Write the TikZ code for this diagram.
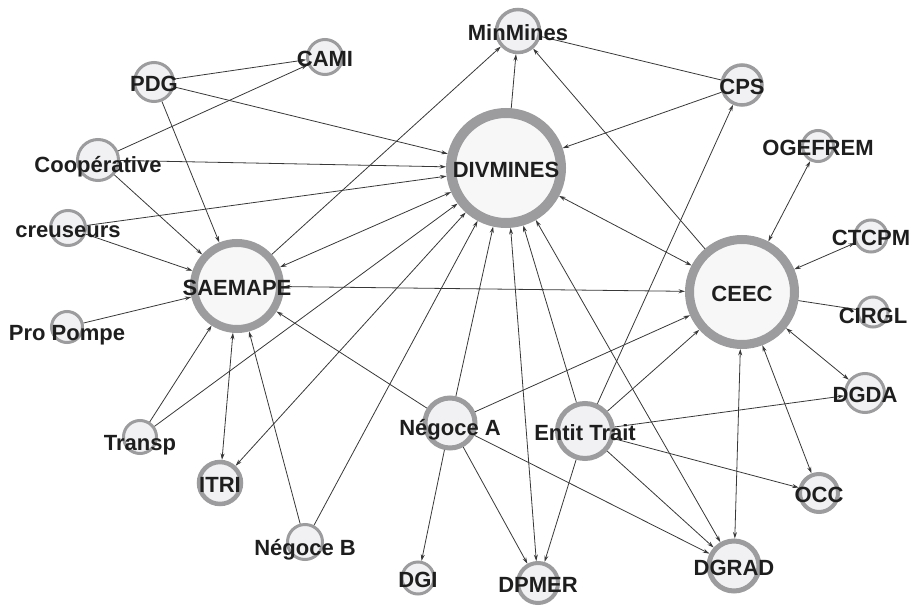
\documentclass[tikz,border=0pt]{standalone}
\usepackage{fontspec}
\setmainfont{Liberation Sans}
\usetikzlibrary{arrows.meta}
\definecolor{ringgray}{HTML}{9C9C9E}
\definecolor{nodefill}{HTML}{F1F1F3}
\definecolor{bigfill}{HTML}{F7F7F8}
\definecolor{edgegray}{HTML}{383838}
\definecolor{labeltext}{HTML}{1E1E1E}
\begin{document}
\begin{tikzpicture}[x=1pt,y=-1pt,
	vertex/.style 2 args={circle,draw=ringgray,fill=nodefill,inner sep=0pt,minimum size=#1,line width=#2},
	hub/.style={fill=bigfill},
	lbl/.style={font=\fontsize{22}{22}\selectfont\bfseries,text=labeltext,inner sep=0pt,text height=15.7pt,text depth=0pt,yshift=-2pt},
	link/.style={draw=edgegray,line width=0.8pt},
	>={Stealth[length=6.5pt,width=4pt]}]
	\useasboundingbox (0,0) rectangle (915,607);
	\node[vertex={39}{3}] (pdg) at (154,82) {};
	\node[vertex={35}{3}] (cami) at (325,57) {};
	\node[vertex={41}{3}] (coop) at (98,160) {};
	\node[vertex={35}{3}] (creu) at (68,228) {};
	\node[vertex={86}{8},hub] (saemape) at (237,286) {};
	\node[vertex={31}{3}] (propompe) at (67,327) {};
	\node[vertex={33}{3}] (transp) at (140,437) {};
	\node[vertex={42}{4.5}] (itri) at (220,483) {};
	\node[vertex={35}{3}] (negb) at (305,542) {};
	\node[vertex={32}{3}] (dgi) at (418,578) {};
	\node[vertex={43}{3.5}] (minmines) at (518,31) {};
	\node[vertex={40}{3.5}] (cps) at (742,85) {};
	\node[vertex={110}{10},hub] (divmines) at (506,168) {};
	\node[vertex={31}{3}] (ogefrem) at (818,146) {};
	\node[vertex={32}{3}] (ctcpm) at (871,236) {};
	\node[vertex={105}{9},hub] (ceec) at (742,292) {};
	\node[vertex={30}{3}] (cirgl) at (873,312) {};
	\node[vertex={39}{3}] (dgda) at (865,393) {};
	\node[vertex={55}{5}] (enttrait) at (585,431) {};
	\node[vertex={38}{4}] (occ) at (819,493) {};
	\node[vertex={50}{5}] (dgrad) at (734,566) {};
	\node[vertex={40}{4}] (dpmer) at (538,583) {};
	\node[vertex={50}{5}] (nega) at (450,423) {};
	\draw[link,->] (pdg) -- (cami);
	\draw[link,->] (coop) -- (cami);
	\draw[link,->] (pdg) -- (divmines);
	\draw[link,->] (pdg) -- (saemape);
	\draw[link,->] (coop) -- (divmines);
	\draw[link,->] (coop) -- (saemape);
	\draw[link,->] (creu) -- (divmines);
	\draw[link,->] (creu) -- (saemape);
	\draw[link,->] (propompe) -- (saemape);
	\draw[link,->] (saemape) -- (minmines);
	\draw[link,<->] (divmines) -- (saemape);
	\draw[link,<->] (saemape) -- (ceec);
	\draw[link,->] (transp) -- (saemape);
	\draw[link,->] (transp) -- (divmines);
	\draw[link,<->] (itri) -- (saemape);
	\draw[link,<->] (itri) -- (divmines);
	\draw[link,->] (negb) -- (saemape);
	\draw[link,->] (negb) -- (divmines);
	\draw[link,->] (nega) -- (saemape);
	\draw[link,->] (nega) -- (divmines);
	\draw[link,->] (nega) -- (ceec);
	\draw[link,->] (nega) -- (dgi);
	\draw[link,->] (nega) -- (dpmer);
	\draw[link,->] (nega) -- (dgrad);
	\draw[link,<->] (divmines) -- (dpmer);
	\draw[link,<->] (divmines) -- (dgrad);
	\draw[link,->] (enttrait) -- (divmines);
	\draw[link,<->] (divmines) -- (ceec);
	\draw[link,->] (divmines) -- (minmines);
	\draw[link,->] (cps) -- (divmines);
	\draw[link] (cps) -- (minmines);
	\draw[link,->] (ceec) -- (minmines);
	\draw[link,->] (enttrait) -- (cps);
	\draw[link,->] (enttrait) -- (ceec);
	\draw[link,->] (enttrait) -- (dgda);
	\draw[link,->] (enttrait) -- (occ);
	\draw[link,->] (enttrait) -- (dgrad);
	\draw[link,->] (enttrait) -- (dpmer);
	\draw[link,<->] (ceec) -- (ogefrem);
	\draw[link,<->] (ceec) -- (ctcpm);
	\draw[link] (ceec) -- (cirgl);
	\draw[link,<->] (ceec) -- (dgda);
	\draw[link,<->] (ceec) -- (occ);
	\draw[link,<->] (ceec) -- (dgrad);
	\node[lbl] at (pdg) {PDG};
	\node[lbl] at (cami) {CAMI};
	\node[lbl,yshift=-3pt] at (coop) {Coopérative};
	\node[lbl] at (creu) {creuseurs};
	\node[lbl] at (saemape) {SAEMAPE};
	\node[lbl,yshift=-4pt] at (propompe) {Pro Pompe};
	\node[lbl,yshift=-4pt] at (transp) {Transp};
	\node[lbl] at (itri) {ITRI};
	\node[lbl,yshift=-4pt] at (negb) {Négoce B};
	\node[lbl] at (dgi) {DGI};
	\node[lbl] at (minmines) {MinMines};
	\node[lbl] at (cps) {CPS};
	\node[lbl] at (divmines) {DIVMINES};
	\node[lbl] at (ogefrem) {OGEFREM};
	\node[lbl] at (ctcpm) {CTCPM};
	\node[lbl] at (ceec) {CEEC};
	\node[lbl,yshift=-2pt] at (cirgl) {CIRGL};
	\node[lbl] at (dgda) {DGDA};
	\node[lbl] at (enttrait) {Entit Trait};
	\node[lbl] at (occ) {OCC};
	\node[lbl] at (dgrad) {DGRAD};
	\node[lbl] at (dpmer) {DPMER};
	\node[lbl,yshift=-3pt] at (nega) {Négoce A};
\end{tikzpicture}
\end{document}
